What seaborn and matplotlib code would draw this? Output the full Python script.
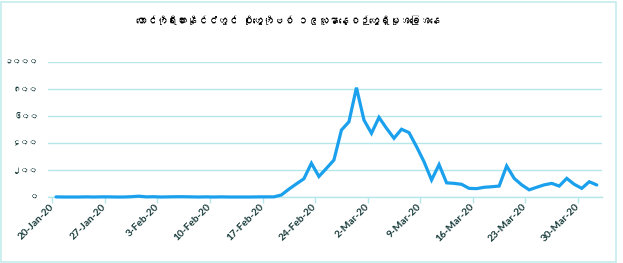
import numpy as np
import pandas as pd
import matplotlib
matplotlib.use("Agg")
import matplotlib.pyplot as plt
import matplotlib.dates as mdates
import seaborn as sns
from matplotlib import font_manager
from matplotlib.ft2font import FT2Font
from matplotlib.patches import Rectangle

# ---------------- data ----------------
title = "တောင်ကိုရီးယားနိုင်ငံတွင် ပိုးတွေ့ကိုဗစ် ၁၉လူနာနေ့စဉ်တွေ့ရှိမှုအခြေအနေ"
start_date = "2020-01-20"
new_cases = [
    1, 0, 0, 0, 1, 0, 1, 1, 0, 0,          # Jan 20 - Jan 29
    2, 6, 1, 2, 0, 1, 2, 2, 1, 0,          # Jan 30 - Feb 8
    1, 0, 1, 0, 0, 0, 0, 1, 1, 1,          # Feb 9 - Feb 18
    15, 58, 97, 135, 250, 152, 212, 274, 496, 557,   # Feb 19 - Feb 28
    810, 570, 472, 590, 509, 435, 502, 477, 373, 261,  # Feb 29 - Mar 9
    126, 240, 105, 101, 94, 64, 62, 72, 76, 81,        # Mar 10 - Mar 19
    230, 138, 90, 53, 72, 90, 101, 81, 138, 94,        # Mar 20 - Mar 29
    64, 113, 89,                                       # Mar 30 - Apr 1
]
y_ticks = [0, 200, 400, 600, 800, 1000]
y_tick_labels = ["၀", "၂၀၀", "၄၀၀", "၆၀၀", "၈၀၀", "၁၀၀၀"]
x_tick_dates = pd.date_range("2020-01-20", "2020-03-30", freq="7D")

dates = pd.date_range(start_date, periods=len(new_cases), freq="D")
df = pd.DataFrame({"date": dates + pd.Timedelta(hours=12), "cases": new_cases})

# ---------------- fonts ----------------
sns.set_theme(style="white")
my_font = None
for f in font_manager.fontManager.ttflist:
    try:
        cm = FT2Font(f.fname).get_charmap()
    except Exception:
        continue
    if 0x1000 in cm and 0x1040 in cm and 0x1031 in cm:
        my_font = f.name
        break
families = ([my_font] if my_font else []) + ["DejaVu Sans"]
plt.rcParams["font.family"] = families

# ---------------- figure ----------------
W, H = 623, 263
fig = plt.figure(figsize=(W / 100, H / 100), dpi=100)
fig.patch.set_facecolor("white")
left_px, right_px, top_px, bot_px = 48, 602, 62, 197
ax = fig.add_axes([left_px / W, 1 - bot_px / H, (right_px - left_px) / W, (bot_px - top_px) / H])

grid_col = "#b4e6ea"
line_col = "#1aa0ec"
text_col = "#173a3a"

sns.lineplot(data=df, x="date", y="cases", ax=ax, color=line_col, linewidth=2.3,
             clip_on=False, solid_joinstyle="miter", zorder=5)

d0 = pd.Timestamp(start_date)
ppd = 7.51
ax.set_xlim(d0 - pd.Timedelta(days=(52.3 - left_px) / ppd),
            d0 + pd.Timedelta(days=(right_px - 52.3) / ppd))
ax.set_ylim(0, 1000)

ax.set_yticks(y_ticks)
ax.set_yticklabels(y_tick_labels)
ax.set_xticks(x_tick_dates)
ax.set_xticklabels([f"{d.day}-{d.strftime('%b')}-{d.strftime('%y')}" for d in x_tick_dates])

for s in ["left", "right", "top"]:
    ax.spines[s].set_visible(False)
ax.spines["bottom"].set_color(grid_col)
ax.spines["bottom"].set_linewidth(1.0)
ax.set_facecolor("white")
ax.grid(axis="y", color=grid_col, linewidth=1.0)
ax.grid(axis="x", visible=False)
ax.set_axisbelow(True)

ax.tick_params(axis="x", which="major", length=4, width=1, color=grid_col, direction="out",
               pad=2, bottom=True)
ax.tick_params(axis="y", length=0, pad=7)
for lab in ax.get_xticklabels():
    lab.set_rotation(45)
    lab.set_rotation_mode("anchor")
    lab.set_ha("right")
    lab.set_va("center")
    lab.set_fontsize(7.3)
    lab.set_fontweight("bold")
    lab.set_color(text_col)
    lab.set_family(["Lato", "DejaVu Sans"])
for lab in ax.get_yticklabels():
    lab.set_fontsize(6.0)
    lab.set_fontweight("bold")
    lab.set_color(text_col)
ax.set_xlabel("")
ax.set_ylabel("")

fig.text(288 / W, 1 - 20 / H, title, ha="center", va="center", fontsize=7.3,
         color="black", family=families)

fig.patches.append(Rectangle((1 / W, 1 / H), 615 / W, 260 / H, transform=fig.transFigure,
                             fill=False, edgecolor="#c4ecec", linewidth=1.2))

fig.savefig("out.png", dpi=100, facecolor="white")
